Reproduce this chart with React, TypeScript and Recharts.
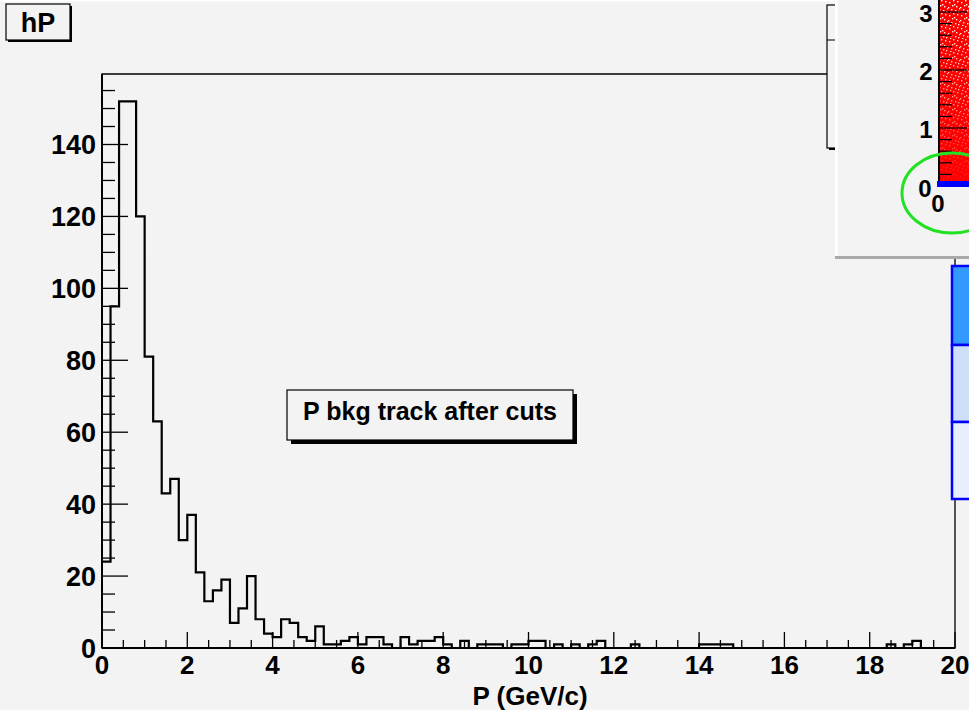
import { LineChart, Line, XAxis, YAxis, ReferenceArea } from 'recharts';

// hP histogram: 100 bins of 0.2 GeV/c from 0 to 20
const binWidth = 0.2;
const counts = [
    24, 95, 152, 152, 120, 81, 63, 43, 47, 30,
    37, 21, 13, 16, 19, 7, 11, 20, 8, 4,
    3, 8, 7, 3, 2, 6, 1, 1, 2, 3,
    1, 3, 3, 1, 0, 3, 1, 2, 2, 3,
    1, 0, 2, 0, 1, 1, 1, 0, 1, 1,
    2, 2, 0, 1, 0, 1, 0, 1, 2, 0,
    0, 0, 1, 0, 0, 0, 0, 0, 0, 0,
    1, 1, 1, 1, 0, 0, 0, 0, 0, 0,
    0, 0, 0, 0, 0, 0, 0, 0, 0, 0,
    0, 0, 1, 0, 1, 2, 0, 0, 0, 0,
];

const xMajorTicks = [0, 2, 4, 6, 8, 10, 12, 14, 16, 18, 20];
const yMajorTicks = [0, 20, 40, 60, 80, 100, 120, 140];
const xMinorStep = 0.5;
const yMinorStep = 5;
const yMax = 159.6;

const xTicks: number[] = [];
for (let v = 0; v <= 20; v += xMinorStep) xTicks.push(v);
const yTicks: number[] = [];
for (let v = 0; v < yMax; v += yMinorStep) yTicks.push(v);

const chartData = counts.map((c, i) => ({ x: i * binWidth, count: c }));
chartData.push({ x: 20, count: 0 });

const FONT = '"Liberation Sans", Arial, Helvetica, sans-serif';
const BG = '#f3f3f3';
const PLOT_LEFT = 102;
const PLOT_BOTTOM = 648;

const XTick = ({ x, payload }: any) => {
    const v = payload.value;
    const major = xMajorTicks.includes(v);
    return (
        <g>
            <line x1={x} x2={x} y1={PLOT_BOTTOM} y2={PLOT_BOTTOM - (major ? 16 : 8)} stroke="#000" strokeWidth={1.3} />
            {major && (
                <text x={x} y={674} textAnchor="middle" fontFamily={FONT} fontWeight="bold" fontSize={26} fill="#000">
                    {v}
                </text>
            )}
        </g>
    );
};

const YTick = ({ y, payload }: any) => {
    const v = payload.value;
    const major = yMajorTicks.includes(v);
    return (
        <g>
            <line x1={PLOT_LEFT} x2={PLOT_LEFT + (major ? 26 : 13)} y1={y} y2={y} stroke="#000" strokeWidth={1.3} />
            {major && (
                <text x={96} y={y + 10} textAnchor="end" fontFamily={FONT} fontWeight="bold" fontSize={27} fill="#000">
                    {v}
                </text>
            )}
        </g>
    );
};

// white speckle positions for the red scatter in the corner pad
const speckles = [
    [1, 2], [5, 0], [8, 6], [3, 9], [10, 11], [6, 4], [2, 12], [9, 1], [0, 7], [7, 10], [4, 5], [11, 8],
];

const Overlay = () => (
    <svg width={969} height={710} style={{ position: 'absolute', left: 0, top: 0, pointerEvents: 'none' }}>
        <defs>
            <pattern id="speck" width={12} height={13} patternUnits="userSpaceOnUse">
                {speckles.map(([sx, sy], i) => (
                    <rect key={i} x={sx} y={sy} width={1.4} height={1.4} fill="#fff" />
                ))}
            </pattern>
            <linearGradient id="fade" x1="0" y1="0" x2="0" y2="1">
                <stop offset="0" stopColor="#fff" stopOpacity={1} />
                <stop offset="0.55" stopColor="#fff" stopOpacity={0.6} />
                <stop offset="1" stopColor="#fff" stopOpacity={0.05} />
            </linearGradient>
            <mask id="fadeMask">
                <rect x={940} y={0} width={29} height={183} fill="url(#fade)" />
            </mask>
        </defs>

        <rect x={0} y={0} width={835} height={1.5} fill="#fff" />

        {/* title box */}
        <rect x={8} y={6} width={64} height={36} fill="#000" />
        <rect x={6} y={4} width={64} height={36} fill={BG} stroke="#000" strokeWidth={1.2} />
        <text x={38} y={32} textAnchor="middle" fontFamily={FONT} fontWeight="bold" fontSize={27}>hP</text>

        {/* text box */}
        <rect x={291} y={394} width={286} height={50} fill="#000" />
        <rect x={287} y={390} width={286} height={50} fill={BG} stroke="#000" strokeWidth={1.2} />
        <text x={430} y={420} textAnchor="middle" fontFamily={FONT} fontWeight="bold" fontSize={25}>
            P bkg track after cuts
        </text>

        {/* x axis title */}
        <text x={530} y={705} textAnchor="middle" fontFamily={FONT} fontWeight="bold" fontSize={26}>
            P (GeV/c)
        </text>

        {/* stats box behind the second window */}
        <rect x={829} y={7} width={150} height={143} fill="#000" />
        <rect x={827} y={5} width={150} height={143} fill={BG} stroke="#000" strokeWidth={1.2} />
        <line x1={827} x2={969} y1={40} y2={40} stroke="#000" strokeWidth={1.2} />

        {/* second window */}
        <rect x={835} y={0} width={140} height={257} fill={BG} />
        <rect x={835} y={0} width={2.5} height={257} fill="#fff" />
        <rect x={835} y={256} width={140} height={3} fill="#aaa" />

        <rect x={940} y={0} width={29} height={183} fill="#ff0000" />
        <rect x={940} y={0} width={29} height={183} fill="url(#speck)" mask="url(#fadeMask)" />
        <line x1={939} x2={939} y1={0} y2={184} stroke="#000" strokeWidth={2} />
        {[12, 70, 128].map((ty) => (
            <line key={ty} x1={939} x2={967} y1={ty} y2={ty} stroke="#000" strokeWidth={1.2} />
        ))}
        {[23.6, 35.2, 46.8, 58.4, 81.6, 93.2, 104.8, 116.4, 139.6, 151.2, 162.8, 174.4].map((ty) => (
            <line key={ty} x1={939} x2={952} y1={ty} y2={ty} stroke="#000" strokeWidth={1.2} />
        ))}
        <rect x={937} y={181} width={32} height={6} fill="#0000ff" />
        {[['3', 926, 22], ['2', 926, 80], ['1', 926, 138], ['0', 925, 197], ['0', 938, 212]].map(([t, tx, ty], i) => (
            <text key={i} x={tx as number} y={ty as number} textAnchor="middle" fontFamily={FONT} fontWeight="bold" fontSize={24}>
                {t}
            </text>
        ))}
        <ellipse cx={952} cy={193} rx={50} ry={40} fill="none" stroke="#22e022" strokeWidth={3} />

        {/* blue panel at right edge */}
        <rect x={952} y={266} width={30} height={79} fill="#3399ff" stroke="#0000ff" strokeWidth={2.5} />
        <rect x={952} y={345} width={30} height={77} fill="#cddff9" stroke="#0000ff" strokeWidth={2.5} />
        <rect x={952} y={422} width={30} height={77} fill="#e8effc" stroke="#0000ff" strokeWidth={2.5} />
    </svg>
);

const App = () => {
    return (
        <div style={{ position: 'absolute', left: 0, top: 0, width: 969, height: 710, background: BG, overflow: 'hidden' }}>
            <LineChart width={969} height={710} data={chartData} margin={{ top: 74, right: 14, bottom: 0, left: 0 }}>
                <XAxis
                    dataKey="x"
                    type="number"
                    domain={[0, 20]}
                    ticks={xTicks}
                    interval={0}
                    height={62}
                    tickLine={false}
                    axisLine={{ stroke: '#000', strokeWidth: 2 }}
                    tick={<XTick />}
                />
                <YAxis
                    type="number"
                    domain={[0, yMax]}
                    ticks={yTicks}
                    interval={0}
                    width={102}
                    tickLine={false}
                    axisLine={{ stroke: '#000', strokeWidth: 2 }}
                    tick={<YTick />}
                    allowDataOverflow
                />
                <ReferenceArea x1={0} x2={20} y1={0} y2={yMax} fill="none" stroke="#000" strokeWidth={1.3} />
                <Line
                    type="stepAfter"
                    dataKey="count"
                    stroke="#000"
                    strokeWidth={2.2}
                    dot={false}
                    isAnimationActive={false}
                />
            </LineChart>
            <Overlay />
        </div>
    );
};

export default App;
